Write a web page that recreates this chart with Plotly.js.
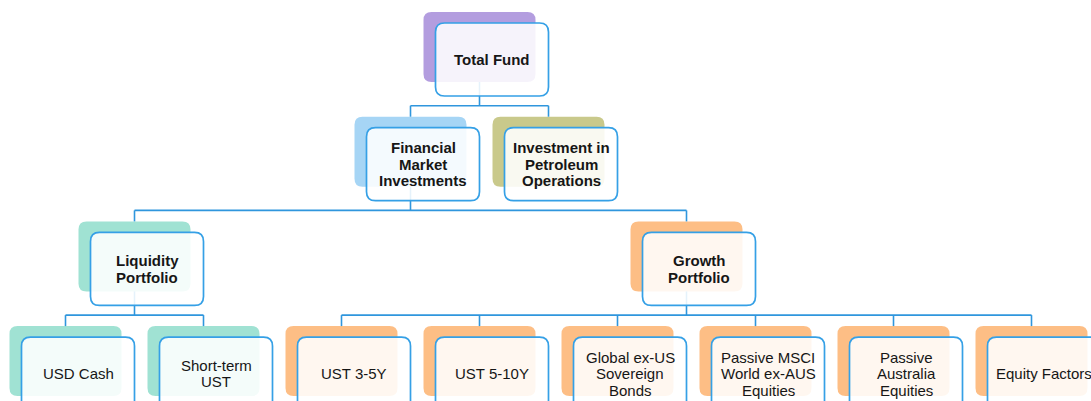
<!DOCTYPE html>
<html>
<head>
<meta charset="utf-8">
<script src="https://cdn.plot.ly/plotly-3.0.1.min.js"></script>
<style>html,body{margin:0;padding:0;background:#fff;}#chart{width:1091px;height:401px;}</style>
</head>
<body>
<div id="chart"></div>
<script>
// ---- data ----
const nodeLabels = [
  'Total Fund',
  'Financial\nMarket\nInvestments',
  'Investment in\nPetroleum\nOperations',
  'Liquidity\nPortfolio',
  'Growth\nPortfolio',
  'USD Cash',
  'Short-term\nUST',
  'UST 3-5Y',
  'UST 5-10Y',
  'Global ex-US\nSovereign\nBonds',
  'Passive MSCI\nWorld ex-AUS\nEquities',
  'Passive\nAustralia\nEquities',
  'Equity Factors'
];
const nodeParents = [-1, 0, 0, 1, 1, 3, 3, 4, 4, 4, 4, 4, 4];
const nodeGroups = ['fund', 'financial', 'petroleum', 'liquidity', 'growth',
  'liquidity', 'liquidity', 'growth', 'growth', 'growth', 'growth', 'growth', 'growth'];
const groupColors = {
  fund: '#b39ddf', financial: '#a6d5f5', petroleum: '#c9c98b',
  liquidity: '#a0e2d3', growth: '#fdbe85'
};

// ---- layout constants ----
const SLOT = 138, START_X = 65.5, TOP0 = 12, LEVEL_H = 104.7;
const BACK_W = 112, BACK_H = 70, FRONT_DX = 12, FRONT_DY = 11, FRONT_W = 113, FRONT_H = 73;
const LINE_H = 16.5;
const BORDER = '#35a0e6', CONNECT = '#2f96dd';

const n = nodeLabels.length;
const children = nodeLabels.map(() => []);
nodeParents.forEach((p, i) => { if (p >= 0) children[p].push(i); });
const depth = new Array(n).fill(0);
for (let i = 0; i < n; i++) { let d = 0, p = nodeParents[i]; while (p >= 0) { d++; p = nodeParents[p]; } depth[i] = d; }
const cx = new Array(n).fill(0);
const nextX = {};
function place(i) {
  const d = depth[i];
  if (nextX[d] === undefined) nextX[d] = START_X;
  if (children[i].length) {
    children[i].forEach(place);
    const c = children[i];
    cx[i] = (cx[c[0]] + cx[c[c.length - 1]]) / 2;
  } else {
    cx[i] = nextX[d];
  }
  nextX[d] = cx[i] + SLOT;
}
place(0);
const topY = depth.map(d => TOP0 + LEVEL_H * d);

function rrect(x0, y0, x1, y1, r) {
  return `M${x0 + r},${y0} L${x1 - r},${y0} Q${x1},${y0} ${x1},${y0 + r} L${x1},${y1 - r} Q${x1},${y1} ${x1 - r},${y1} ` +
    `L${x0 + r},${y1} Q${x0},${y1} ${x0},${y1 - r} L${x0},${y0 + r} Q${x0},${y0} ${x0 + r},${y0} Z`;
}

const shapes = [];
// back boxes
for (let i = 0; i < n; i++) {
  shapes.push({type: 'path', xref: 'x', yref: 'y', layer: 'above',
    path: rrect(cx[i] - BACK_W / 2, topY[i], cx[i] + BACK_W / 2, topY[i] + BACK_H, 8),
    fillcolor: groupColors[nodeGroups[i]], line: {width: 0}});
}
// connectors
for (let i = 0; i < n; i++) {
  const c = children[i];
  if (!c.length) continue;
  const busY = topY[c[0]] - FRONT_DY;
  const ln = (x0, y0, x1, y1) => shapes.push({type: 'line', xref: 'x', yref: 'y', layer: 'above',
    x0, y0, x1, y1, line: {color: CONNECT, width: 1.6}});
  ln(cx[i], topY[i] + BACK_H, cx[i], busY);
  ln(cx[c[0]], busY, cx[c[c.length - 1]], busY);
  c.forEach(k => ln(cx[k], busY, cx[k], topY[k]));
}
// front boxes
for (let i = 0; i < n; i++) {
  const x0 = cx[i] - BACK_W / 2 + FRONT_DX, y0 = topY[i] + FRONT_DY;
  shapes.push({type: 'path', xref: 'x', yref: 'y', layer: 'above',
    path: rrect(x0, y0, x0 + FRONT_W, y0 + FRONT_H, 9),
    fillcolor: 'rgba(255,255,255,0.88)', line: {color: BORDER, width: 1.7}});
}

const annotations = [];
for (let i = 0; i < n; i++) {
  const lines = nodeLabels[i].split('\n');
  const x = cx[i] - BACK_W / 2 + FRONT_DX + FRONT_W / 2;
  const yc = topY[i] + FRONT_DY + FRONT_H / 2;
  lines.forEach((t, k) => {
    annotations.push({xref: 'x', yref: 'y', x, y: yc + (k - (lines.length - 1) / 2) * LINE_H,
      text: depth[i] < 3 ? '<b>' + t + '</b>' : t, showarrow: false,
      xanchor: 'center', yanchor: 'middle',
      font: {family: 'Liberation Sans, Arial, sans-serif', size: 15, color: '#161616'}});
  });
}

Plotly.newPlot('chart', [{type: 'scatter', x: [], y: [], mode: 'markers', hoverinfo: 'skip'}], {
  width: 1091, height: 401, margin: {l: 0, r: 0, t: 0, b: 0},
  paper_bgcolor: '#ffffff', plot_bgcolor: '#ffffff', showlegend: false,
  xaxis: {range: [0, 1091], visible: false, fixedrange: true},
  yaxis: {range: [401, 0], visible: false, fixedrange: true},
  shapes, annotations
}, {displayModeBar: false, staticPlot: true});
</script>
</body>
</html>
